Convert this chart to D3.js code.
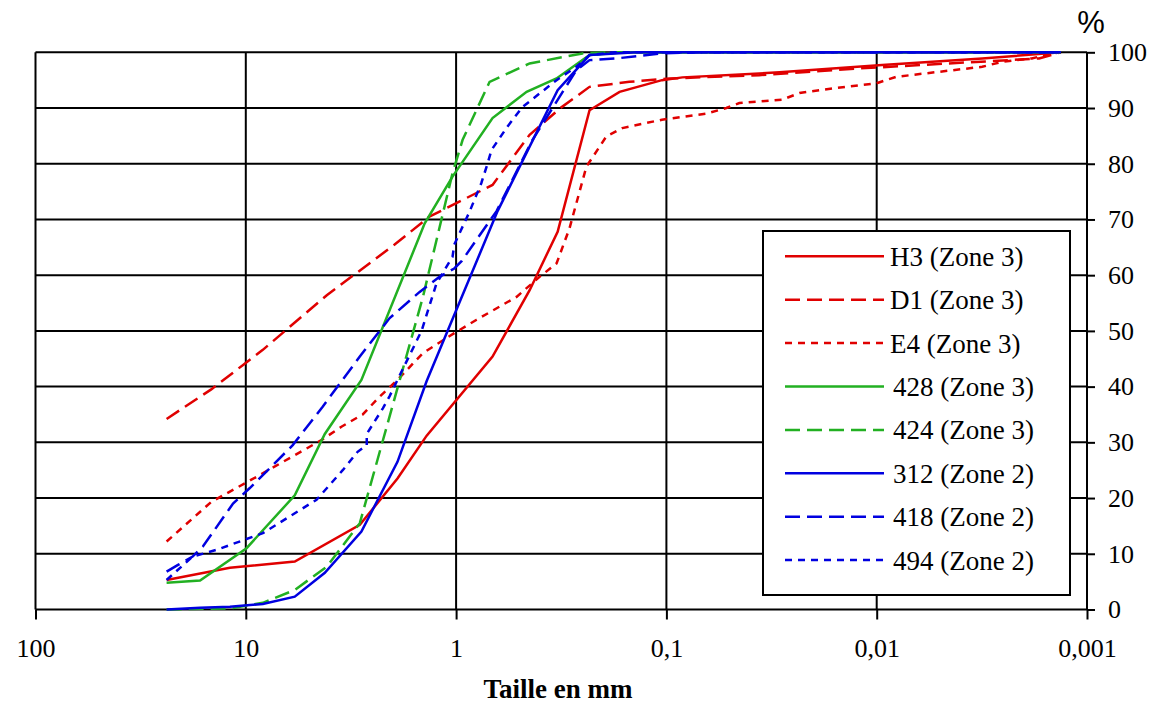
<!DOCTYPE html>
<html><head><meta charset="utf-8">
<script src="https://cdn.jsdelivr.net/npm/d3@7"></script>
<style>body{margin:0;background:#fff}svg{display:block}</style>
</head><body>
<svg id="chart" width="1154" height="704"></svg>
<script>
// ---- data (sieve size in mm, cumulative % passing) ----
const sizesH3 = [23.8, 11.9, 5.85, 2.87, 1.90, 1.38, 0.671, 0.447, 0.329, 0.232, 0.167, 0.105, 0.0839, 0.0290, 0.00942, 0.00315, 0.00133];
const passH3  = [5.3, 7.5, 8.6, 15.2, 23.5, 31.2, 45.4, 57.3, 67.8, 89.6, 92.9, 95.0, 95.5, 96.4, 97.7, 98.9, 100];

const sizesD1 = [23.8, 14.6, 10.3, 8.30, 4.12, 1.96, 1.34, 0.671, 0.447, 0.319, 0.232, 0.150, 0.0968, 0.0362, 0.0121, 0.00292, 0.00169, 0.00133];
const passD1  = [34.2, 39.5, 43.9, 46.6, 56.4, 65.5, 70.5, 76.2, 85.2, 90.0, 93.8, 94.7, 95.3, 95.9, 97.1, 98.4, 98.9, 100];

const sizesE4 = [23.8, 14.6, 8.90, 5.54, 4.37, 3.51, 2.78, 2.31, 1.90, 1.44, 1.02, 0.799, 0.516, 0.401, 0.333, 0.289, 0.240, 0.193, 0.162, 0.105, 0.0646, 0.0519, 0.0450, 0.0281, 0.0233, 0.0156, 0.0101, 0.00808, 0.00505, 0.00315, 0.00253, 0.00183, 0.00147, 0.00133];
const passE4  = [12.2, 19.3, 23.8, 28.2, 30.4, 32.8, 35.0, 38.2, 41.2, 46.0, 49.6, 52.0, 56.1, 59.7, 62.1, 68.4, 79.5, 84.9, 86.4, 87.9, 89.0, 90.0, 90.9, 91.5, 92.7, 93.6, 94.4, 95.6, 96.5, 97.4, 98.3, 98.9, 99.8, 100];

const sizes428 = [23.8, 16.5, 9.92, 5.85, 4.21, 2.82, 1.41, 1.04, 0.671, 0.462, 0.333, 0.232, 0.158, 0.00133];
const pass428  = [4.8, 5.2, 11.0, 20.5, 31.5, 41.2, 69.3, 77.7, 88.2, 92.9, 95.3, 99.5, 100, 100];

const sizes424 = [23.8, 11.9, 8.30, 5.85, 4.12, 2.87, 1.44, 1.04, 0.931, 0.693, 0.447, 0.251, 0.187, 0.00133];
const pass424  = [0.0, 0.2, 1.2, 3.5, 7.7, 15.5, 56.0, 78.3, 84.3, 94.7, 98.0, 99.8, 100, 100];

const sizes312 = [23.8, 16.5, 11.9, 8.30, 5.85, 4.21, 2.82, 1.90, 1.38, 0.635, 0.329, 0.232, 0.139, 0.00133];
const pass312  = [0.0, 0.3, 0.5, 1.0, 2.3, 6.6, 14.0, 26.5, 41.0, 71.5, 93.2, 99.5, 100, 100];

const sizes418 = [23.8, 21.0, 17.9, 16.0, 11.5, 9.57, 8.30, 5.98, 4.31, 2.87, 2.07, 1.49, 1.20, 1.02, 0.942, 0.642, 0.433, 0.268, 0.232, 0.173, 0.105, 0.0697, 0.00133];
const pass418  = [6.8, 8.0, 9.5, 11.3, 19.0, 21.8, 24.1, 29.5, 36.4, 45.4, 52.3, 57.0, 59.7, 61.2, 62.5, 71.5, 84.3, 96.8, 98.6, 98.9, 99.8, 100, 100];

const sizes494 = [23.8, 17.9, 13.8, 8.30, 4.61, 3.46, 2.94, 2.66, 2.66, 2.23, 2.07, 1.90, 1.46, 1.24, 1.04, 1.02, 0.863, 0.759, 0.716, 0.678, 0.569, 0.483, 0.333, 0.268, 0.232, 0.177, 0.00133];
const pass494  = [5.3, 9.5, 10.7, 13.7, 19.7, 25.0, 28.3, 29.5, 31.5, 36.1, 38.3, 41.2, 50.0, 58.5, 63.3, 65.5, 71.4, 76.5, 79.5, 82.5, 86.7, 90.2, 95.0, 97.4, 99.5, 100, 100];

const seriesNames = ["H3 (Zone 3)", "D1 (Zone 3)", "E4 (Zone 3)", "428 (Zone 3)", "424 (Zone 3)", "312 (Zone 2)", "418 (Zone 2)", "494 (Zone 2)"];
const seriesSizes = [sizesH3, sizesD1, sizesE4, sizes428, sizes424, sizes312, sizes418, sizes494];
const seriesPass  = [passH3, passD1, passE4, pass428, pass424, pass312, pass418, pass494];

const xTickValues = [100, 10, 1, 0.1, 0.01, 0.001];
const xTickLabels = ["100", "10", "1", "0,1", "0,01", "0,001"];
const yTickValues = [0, 10, 20, 30, 40, 50, 60, 70, 80, 90, 100];
const xTitle = "Taille en mm";
const yUnit = "%";

// ---- styles ----
const RED = "#e00000", GREEN = "#22b022", BLUE = "#0000e0";
const seriesColor = [RED, RED, RED, GREEN, GREEN, BLUE, BLUE, BLUE];
const DASH = "15,7", DOT = "7,6";
const seriesDash = [null, DASH, DOT, null, DASH, null, DASH, DOT];

(function () {
const svg = d3.select("#chart");
const pL = 35.5, pR = 1087, pT = 52.3, pB = 609.5;
const x = d3.scaleLog().domain([100, 0.001]).range([pL, pR]);
const y = d3.scaleLinear().domain([0, 100]).range([pB, pT]);
const serif = "'Liberation Serif','Times New Roman',serif";

// grid
const grid = svg.append("g").attr("stroke", "#000").attr("stroke-width", 2);
grid.selectAll(".v").data(xTickValues).join("line").attr("class", "v")
  .attr("x1", d => x(d)).attr("x2", d => x(d)).attr("y1", pT).attr("y2", pB);
grid.selectAll(".h").data(yTickValues).join("line").attr("class", "h")
  .attr("x1", pL).attr("x2", pR).attr("y1", d => y(d)).attr("y2", d => y(d));

// axes
const xAxis = d3.axisBottom(x).tickValues(xTickValues)
  .tickFormat((d, i) => xTickLabels[i]).tickSizeInner(10).tickSizeOuter(0).tickPadding(19);
const gx = svg.append("g").attr("transform", `translate(0,${pB})`).call(xAxis);
gx.select(".domain").remove();
gx.selectAll("line").attr("stroke", "#000").attr("stroke-width", 2);
gx.selectAll("text").attr("font-family", serif).attr("font-size", 26).attr("fill", "#000");

const yAxis = d3.axisRight(y).tickValues(yTickValues).tickSizeInner(8).tickSizeOuter(0).tickPadding(13);
const gy = svg.append("g").attr("transform", `translate(${pR},0)`).call(yAxis);
gy.select(".domain").remove();
gy.selectAll("line").attr("stroke", "#000").attr("stroke-width", 2);
gy.selectAll("text").attr("font-family", serif).attr("font-size", 26).attr("fill", "#000");

svg.append("text").attr("x", 558).attr("y", 698).attr("text-anchor", "middle")
  .attr("font-family", serif).attr("font-size", 27).attr("font-weight", "bold").text(xTitle);
svg.append("text").attr("x", 1091).attr("y", 33).attr("text-anchor", "middle")
  .attr("font-family", "'Liberation Sans',Arial,sans-serif").attr("font-size", 31).text(yUnit);

// series
const line = d3.line().x(d => x(d[0])).y(d => y(d[1]));
seriesNames.forEach((name, i) => {
  const pts = seriesSizes[i].map((s, k) => [s, seriesPass[i][k]]);
  svg.append("path").datum(pts).attr("d", line)
    .attr("fill", "none").attr("stroke", seriesColor[i]).attr("stroke-width", 2.5)
    .attr("stroke-dasharray", seriesDash[i]);
});

// legend
const lg = svg.append("g");
lg.append("rect").attr("x", 763).attr("y", 231).attr("width", 307).attr("height", 364)
  .attr("fill", "#fff").attr("stroke", "#000").attr("stroke-width", 2);
seriesNames.forEach((name, i) => {
  const cy = 256.3 + i * 43.4;
  lg.append("line").attr("x1", 785).attr("x2", 884).attr("y1", cy).attr("y2", cy)
    .attr("stroke", seriesColor[i]).attr("stroke-width", 2.5).attr("stroke-dasharray", seriesDash[i]);
  lg.append("text").attr("x", i < 3 ? 890 : 893).attr("y", cy + 9.5)
    .attr("font-family", serif).attr("font-size", 27).attr("fill", "#000").text(name);
});
})();
</script>
</body></html>
